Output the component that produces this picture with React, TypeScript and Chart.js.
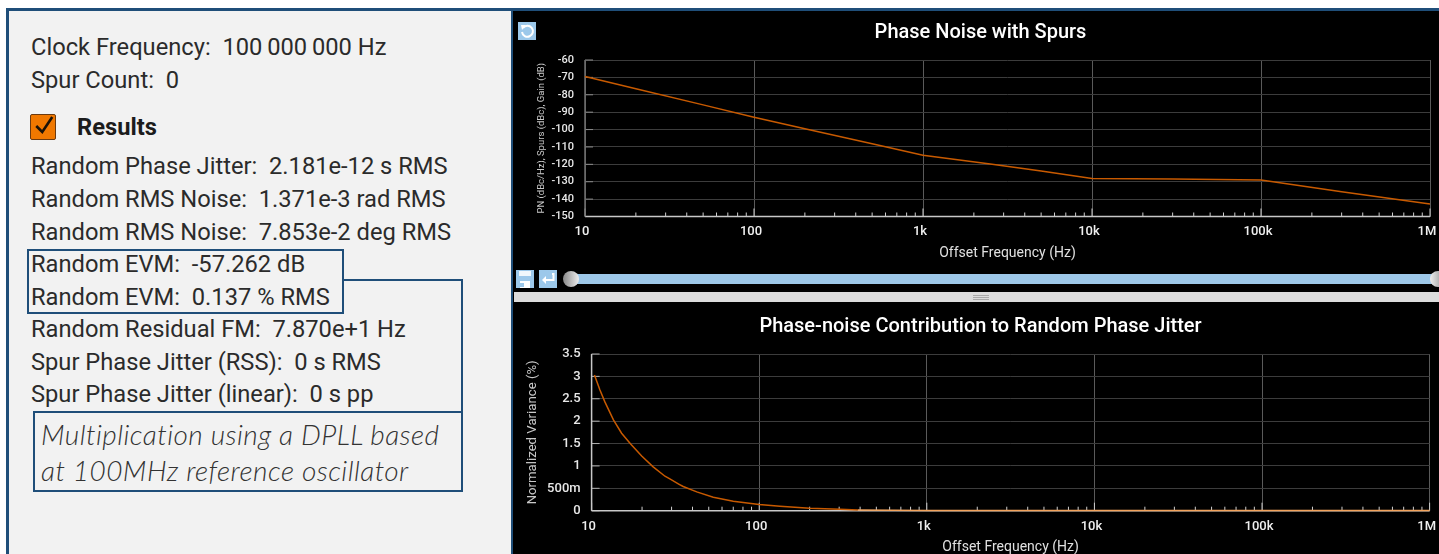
import React, { useEffect, useRef } from "react";
import { Chart, registerables } from "chart.js";

Chart.register(...registerables);

const pnFreqs = [10, 20, 50, 100, 200, 500, 1000, 2500, 5000, 10000, 30000, 100000, 300000, 1000000];
const pnValues = [-69.5, -76.5, -85.8, -92.9, -99.5, -108.2, -114.8, -119.8, -123.9, -128.2, -128.4, -129, -135.7, -142.8];

const varFreqs = [10.4, 11.2, 12, 13.5, 15.1, 17.1, 19.9, 23.3, 27.4, 29.3, 33.3, 35.2, 42.4, 53.2, 70, 100, 133, 200, 303, 388, 1000, 10000, 100000, 1000000];
const varValues = [3.03, 2.7, 2.43, 2.03, 1.73, 1.49, 1.22, 0.98, 0.77, 0.71, 0.59, 0.54, 0.42, 0.3, 0.21, 0.14, 0.1, 0.052, 0.03, 0.015, 0.006, 0.005, 0.004, 0.003];

const xTickValues = [10, 100, 1000, 10000, 100000, 1000000];
const xTickLabels = ["10", "100", "1k", "10k", "100k", "1M"];
const minorFactors = [2, 3, 4, 5, 6, 7, 8, 9];

const pnTicks = [-60, -70, -80, -90, -100, -110, -120, -130, -140, -150];
const pnTickLabels = ["-60", "-70", "-80", "-90", "-100", "-110", "-120", "-130", "-140", "-150"];
const varTicks = [0, 0.5, 1, 1.5, 2, 2.5, 3, 3.5];
const varTickLabels = ["0", "500m", "1", "1.5", "2", "2.5", "3", "3.5"];

const clockRows = [
  { text: "Clock Frequency:  100\u2009000\u2009000 Hz", y: 47 },
  { text: "Spur Count:  0", y: 80 },
];
const resultRows = [
  { text: "Random Phase Jitter:  2.181e-12 s RMS", y: 166 },
  { text: "Random RMS Noise:  1.371e-3 rad RMS", y: 199 },
  { text: "Random RMS Noise:  7.853e-2 deg RMS", y: 231.5 },
  { text: "Random EVM:  -57.262 dB", y: 264 },
  { text: "Random EVM:  0.137 % RMS", y: 297 },
  { text: "Random Residual FM:  7.870e+1 Hz", y: 329 },
  { text: "Spur Phase Jitter (RSS):  0 s RMS", y: 362 },
  { text: "Spur Phase Jitter (linear):  0 s pp", y: 394 },
];
const noteRows = [
  { text: "Multiplication using a DPLL based", y: 434 },
  { text: "at 100MHz reference oscillator", y: 469.5 },
];

const FONT = "Roboto";
const LINE = "#c85a00";
const BLUE = "#1f4e79";

const axisMarks = {
  id: "axisMarks",
  beforeDatasetsDraw(chart: any, _a: any, o: any) {
    const { ctx, scales, chartArea } = chart;
    const x = scales.x;
    const y = scales.y;
    ctx.save();
    ctx.lineWidth = 1;
    ctx.strokeStyle = o.yTickColor;
    y.ticks.forEach((t: any) => {
      const p = y.getPixelForValue(t.value);
      ctx.beginPath();
      ctx.moveTo(chartArea.left, p);
      ctx.lineTo(chartArea.left + 8, p);
      ctx.stroke();
    });
    ctx.strokeStyle = "#cfcfcf";
    xTickValues.forEach((v, i) => {
      const p = x.getPixelForValue(v);
      ctx.beginPath();
      ctx.moveTo(p, chartArea.bottom);
      ctx.lineTo(p, chartArea.bottom - 8);
      ctx.stroke();
      if (i < xTickValues.length - 1) {
        minorFactors.forEach((m) => {
          const q = x.getPixelForValue(v * m);
          ctx.beginPath();
          ctx.moveTo(q, chartArea.bottom);
          ctx.lineTo(q, chartArea.bottom - 4);
          ctx.stroke();
        });
      }
    });
    ctx.lineWidth = 1.5;
    ctx.strokeStyle = "#c8c8c8";
    ctx.beginPath();
    ctx.moveTo(chartArea.left, chartArea.bottom);
    ctx.lineTo(chartArea.right, chartArea.bottom);
    ctx.stroke();
    ctx.strokeStyle = o.leftColor;
    ctx.beginPath();
    ctx.moveTo(chartArea.left, chartArea.top);
    ctx.lineTo(chartArea.left, chartArea.bottom);
    ctx.stroke();
    ctx.restore();
  },
};

function makeConfig(p: any): any {
  return {
    type: "line",
    plugins: [axisMarks],
    data: {
      datasets: [
        {
          data: p.freqs.map((f: number, i: number) => ({ x: f, y: p.values[i] })),
          borderColor: LINE,
          borderWidth: 1.5,
          pointRadius: 0,
          tension: 0,
          clip: false,
          segment: {
            borderColor: (c: any) => (p.floorFrom && c.p0.parsed.x >= p.floorFrom ? "#f2a35c" : LINE),
          },
        },
      ],
    },
    options: {
      responsive: false,
      animation: false,
      layout: { padding: { left: 17, right: 17, top: 0, bottom: 0 } },
      plugins: {
        legend: { display: false },
        tooltip: { enabled: false },
        axisMarks: { yTickColor: p.yTickColor, leftColor: p.leftColor },
        title: {
          display: true,
          text: p.title,
          color: "#ffffff",
          font: { family: FONT, size: 20, weight: "500", lineHeight: 1.2 },
          padding: p.titlePadding,
        },
      },
      scales: {
        x: {
          type: "logarithmic",
          min: 10,
          max: 1000000,
          afterBuildTicks(s: any) {
            s.ticks = xTickValues.map((value) => ({ value }));
          },
          afterFit(s: any) {
            s.height = p.xHeight;
          },
          border: { display: false },
          grid: { color: "#5a5a5a", lineWidth: 1, drawTicks: false },
          ticks: {
            color: "#f0f0f0",
            font: { family: FONT, size: 13, weight: "500" },
            autoSkip: false,
            maxRotation: 0,
            padding: p.xTickPadding,
            labelOffset: -3,
            callback: (_v: any, i: number) => xTickLabels[i],
          },
          title: {
            display: true,
            text: "Offset Frequency (Hz)",
            color: "#e0e0e0",
            font: { family: FONT, size: 14 },
            padding: p.xTitlePadding,
          },
        },
        y: {
          type: "linear",
          min: p.min,
          max: p.max,
          afterBuildTicks(s: any) {
            s.ticks = p.yTicks.map((value: number) => ({ value }));
          },
          afterFit(s: any) {
            s.width = p.yWidth;
          },
          border: { display: false },
          grid: { color: "#3c3c3c", lineWidth: 1, drawTicks: false },
          ticks: {
            color: "#e8e8e8",
            font: { family: FONT, size: p.yFont, weight: "500" },
            padding: 11,
            autoSkip: false,
            callback: (_v: any, i: number) => p.yLabels[i],
          },
          title: {
            display: true,
            text: p.yTitle,
            color: "#c8c8c8",
            font: { family: FONT, size: p.yTitleFont },
            padding: p.yTitlePadding,
          },
        },
      },
    },
  };
}

const text: React.CSSProperties = {
  position: "absolute",
  whiteSpace: "pre",
  fontFamily: FONT,
  lineHeight: "30px",
  height: 30,
  color: "#2b2b2b",
};

function box(left: number, top: number, right: number, bottom: number): React.CSSProperties {
  return {
    position: "absolute",
    left,
    top,
    width: right - left,
    height: bottom - top,
    boxSizing: "border-box",
    border: `2px solid ${BLUE}`,
  };
}

function abs(left: number, top: number, width: number, height: number, extra: React.CSSProperties = {}): React.CSSProperties {
  return { position: "absolute", left, top, width, height, ...extra };
}

export default function App() {
  const c1 = useRef<HTMLCanvasElement>(null);
  const c2 = useRef<HTMLCanvasElement>(null);

  useEffect(() => {
    const a = new Chart(
      c1.current as any,
      makeConfig({
        freqs: pnFreqs,
        values: pnValues,
        title: "Phase Noise with Spurs",
        titlePadding: { top: 8.5, bottom: 15.5 },
        xHeight: 45.5,
        xTickPadding: 7,
        xTitlePadding: { top: 0, bottom: 0 },
        min: -150,
        max: -60,
        yTicks: pnTicks,
        yLabels: pnTickLabels,
        yWidth: 54,
        yFont: 11,
        yTitle: "PN (dBc/Hz), Spurs (dBc), Gain (dB)",
        yTitleFont: 9.5,
        yTitlePadding: { top: 5, bottom: 0 },
        yTickColor: "#8c8c8c",
        leftColor: "#707070",
      })
    );
    const b = new Chart(
      c2.current as any,
      makeConfig({
        freqs: varFreqs,
        values: varValues,
        floorFrom: 388,
        title: "Phase-noise Contribution to Random Phase Jitter",
        titlePadding: { top: 15, bottom: 15 },
        xHeight: 43.3,
        xTickPadding: 8,
        xTitlePadding: { top: 0, bottom: -2 },
        min: 0,
        max: 3.5,
        yTicks: varTicks,
        yLabels: varTickLabels,
        yWidth: 60.6,
        yFont: 13,
        yTitle: "Normalized Variance (%)",
        yTitleFont: 13.2,
        yTitlePadding: { top: -6, bottom: 0 },
        yTickColor: "#b0b0b0",
        leftColor: "#c8c8c8",
      })
    );
    return () => {
      a.destroy();
      b.destroy();
    };
  }, []);

  return (
    <div style={{ position: "fixed", left: 0, top: 0, width: 1439, height: 554, overflow: "hidden", background: "#fff" }}>
      {/* left panel */}
      <div style={abs(6, 8, 506, 546, { background: BLUE })} />
      <div style={abs(9, 11, 502, 543, { background: "#f2f2f2" })} />
      {clockRows.map((r) => (
        <div key={r.text} style={{ ...text, left: 31, top: r.y - 15, fontSize: 23.7 }}>{r.text}</div>
      ))}
      <div style={abs(29.5, 114, 26.5, 26, { background: "#f07800", border: "1px solid #6b3a10", boxSizing: "border-box", borderRadius: 2 })} />
      <svg style={abs(29.5, 114, 26.5, 26)} viewBox="0 0 26 26">
        <path d="M6 12 L12 18 L22 3" fill="none" stroke="#1a1208" strokeWidth="2.6" />
      </svg>
      <div style={{ ...text, left: 77, top: 112, fontSize: 23.7, fontWeight: 700, color: "#1c1c1c" }}>Results</div>
      {resultRows.map((r) => (
        <div key={r.text} style={{ ...text, left: 31, top: r.y - 15, fontSize: 23.7 }}>{r.text}</div>
      ))}
      <div style={box(27, 249, 344, 314)} />
      <div style={{ ...box(343, 279, 463, 413), borderLeft: "none" }} />
      <div style={{ ...box(33, 411, 463, 492) }} />
      {noteRows.map((r) => (
        <div key={r.text} style={{ ...text, left: 41, top: r.y - 15, fontSize: 28, letterSpacing: 0.43, fontFamily: "Lato", fontStyle: "italic", fontWeight: 300, color: "#333" }}>{r.text}</div>
      ))}

      {/* right panel */}
      <div style={abs(511, 8, 928, 546, { background: BLUE })} />
      <div style={abs(513, 11, 926, 543, { background: "#000" })} />
      <canvas ref={c1} width={933} height={250} style={abs(514, 12, 933, 250, { display: "block" })} />
      <canvas ref={c2} width={933} height={254} style={abs(514, 300, 933, 254, { display: "block" })} />

      {/* toolbar icons */}
      <svg style={abs(518, 22, 18, 18)} viewBox="0 0 18 18">
        <rect width="18" height="18" fill="#9cc8ea" />
        <path d="M5 6 A5.5 5.5 0 1 1 4 10" fill="none" stroke="#fff" strokeWidth="2" />
        <path d="M3 3 L8 3 L4 8 Z" fill="#fff" />
      </svg>
      <svg style={abs(516, 270, 18, 18)} viewBox="0 0 18 18">
        <rect width="18" height="18" fill="#9cc8ea" />
        <rect x="3" y="1" width="12" height="5" fill="#fff" opacity="0.85" />
        <rect x="4" y="11" width="10" height="7" fill="#fff" />
        <rect x="4" y="13" width="4" height="4" fill="#9cc8ea" />
      </svg>
      <svg style={abs(539, 270, 18, 18)} viewBox="0 0 18 18">
        <rect width="18" height="18" fill="#9cc8ea" />
        <path d="M13 4 L14.5 4 L14.5 10 L6 10" fill="none" stroke="#fff" strokeWidth="2" />
        <path d="M3 10 L7 6 L7 14 Z" fill="#fff" />
      </svg>
      <div style={abs(568, 274, 871, 10, { background: "#9dc7e8" })} />
      <div style={abs(563, 271, 16, 16, { borderRadius: "50%", background: "linear-gradient(90deg,#888,#eee)" })} />
      <div style={abs(1430, 271, 16, 16, { borderRadius: "50%", background: "linear-gradient(90deg,#eee,#888)" })} />
      <div style={abs(514, 292, 925, 9.5, { background: "#dcdcdc" })} />
      {[295, 297, 299].map((y) => (
        <div key={y} style={abs(973, y, 16, 1, { background: "#a8a8a8" })} />
      ))}
    </div>
  );
}
